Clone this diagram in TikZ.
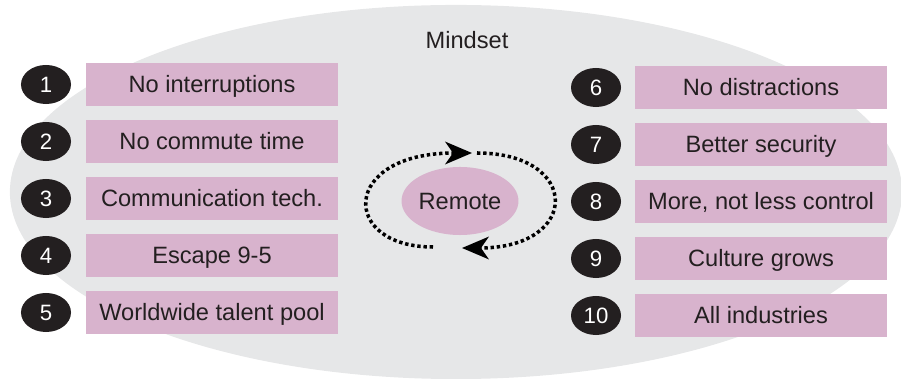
\documentclass[tikz,border=0pt]{standalone}
\usepackage{fontspec}
\setmainfont{Liberation Sans}
\usetikzlibrary{shapes.geometric,arrows.meta}

\definecolor{mindgray}{HTML}{E6E7E8}
\definecolor{itempink}{HTML}{D8B3CD}
\definecolor{itemblack}{HTML}{231F20}

\tikzset{
  item/.style={fill=itempink, minimum width=6.3cm, minimum height=1.075cm,
    inner sep=0pt, text=itemblack, text height=12pt, text depth=0pt,
    font=\fontsize{16.8}{19}\selectfont},
  num/.style={ellipse, fill=itemblack, minimum width=1.25cm, minimum height=0.975cm,
    inner sep=0pt, text=white, text height=11.2pt, text depth=0pt,
    font=\fontsize{15.8}{18}\selectfont},
  cycarrow/.style={line width=2.5pt, dash pattern=on 2.4pt off 2pt,
    -{Stealth[length=19pt,width=16pt,inset=5.5pt]}}
}

\begin{document}
\begin{tikzpicture}[x=0.025cm,y=-0.025cm]
    \useasboundingbox (0,0) rectangle (901,379);
    \node[ellipse, fill=mindgray, minimum width=22.3cm, minimum height=9.35cm] (mind) at (456,192) {};
    \node[text=itemblack, text height=12pt, text depth=0pt, font=\fontsize{16.8}{19}\selectfont] (title) at (467,40) {Mindset};

    % left column
    \node[num] (n1) at (46,84.5) {1};
    \node[num] (n2) at (46,141.5) {2};
    \node[num] (n3) at (46,198.5) {3};
    \node[num] (n4) at (46,255.5) {4};
    \node[num] (n5) at (46,312.5) {5};
    \node[item] (b1) at (212,84.5) {No interruptions};
    \node[item] (b2) at (212,141.5) {No commute time};
    \node[item] (b3) at (212,198.5) {Communication tech.};
    \node[item] (b4) at (212,255.5) {Escape 9-5};
    \node[item] (b5) at (212,312.5) {Worldwide talent pool};

    % right column
    \node[num] (n6) at (596,87.5) {6};
    \node[num] (n7) at (596,144.5) {7};
    \node[num] (n8) at (596,201.5) {8};
    \node[num] (n9) at (596,258.5) {9};
    \node[num] (n10) at (596,315.5) {10};
    \node[item] (b6) at (761,87.5) {No distractions};
    \node[item] (b7) at (761,144.5) {Better security};
    \node[item] (b8) at (761,201.5) {More, not less control};
    \node[item] (b9) at (761,258.5) {Culture grows};
    \node[item] (b10) at (761,315.5) {All industries};

    % remote cycle
    \node[ellipse, fill=itempink, minimum width=2.875cm, minimum height=1.7cm, inner sep=0pt,
      text=itemblack, text height=12pt, text depth=0pt, font=\fontsize{16.8}{19}\selectfont] (remote) at (460,201) {Remote};
    \coordinate (la) at (433,247);
    \coordinate (lb) at (472,153);
    \coordinate (ra) at (477,153);
    \coordinate (rb) at (462,248);
    \draw[cycarrow] (la) .. controls +(-93,0) and +(-132,0) .. (lb);
    \draw[cycarrow] (ra) .. controls +(104,0) and +(119,0) .. (rb);
\end{tikzpicture}
\end{document}
